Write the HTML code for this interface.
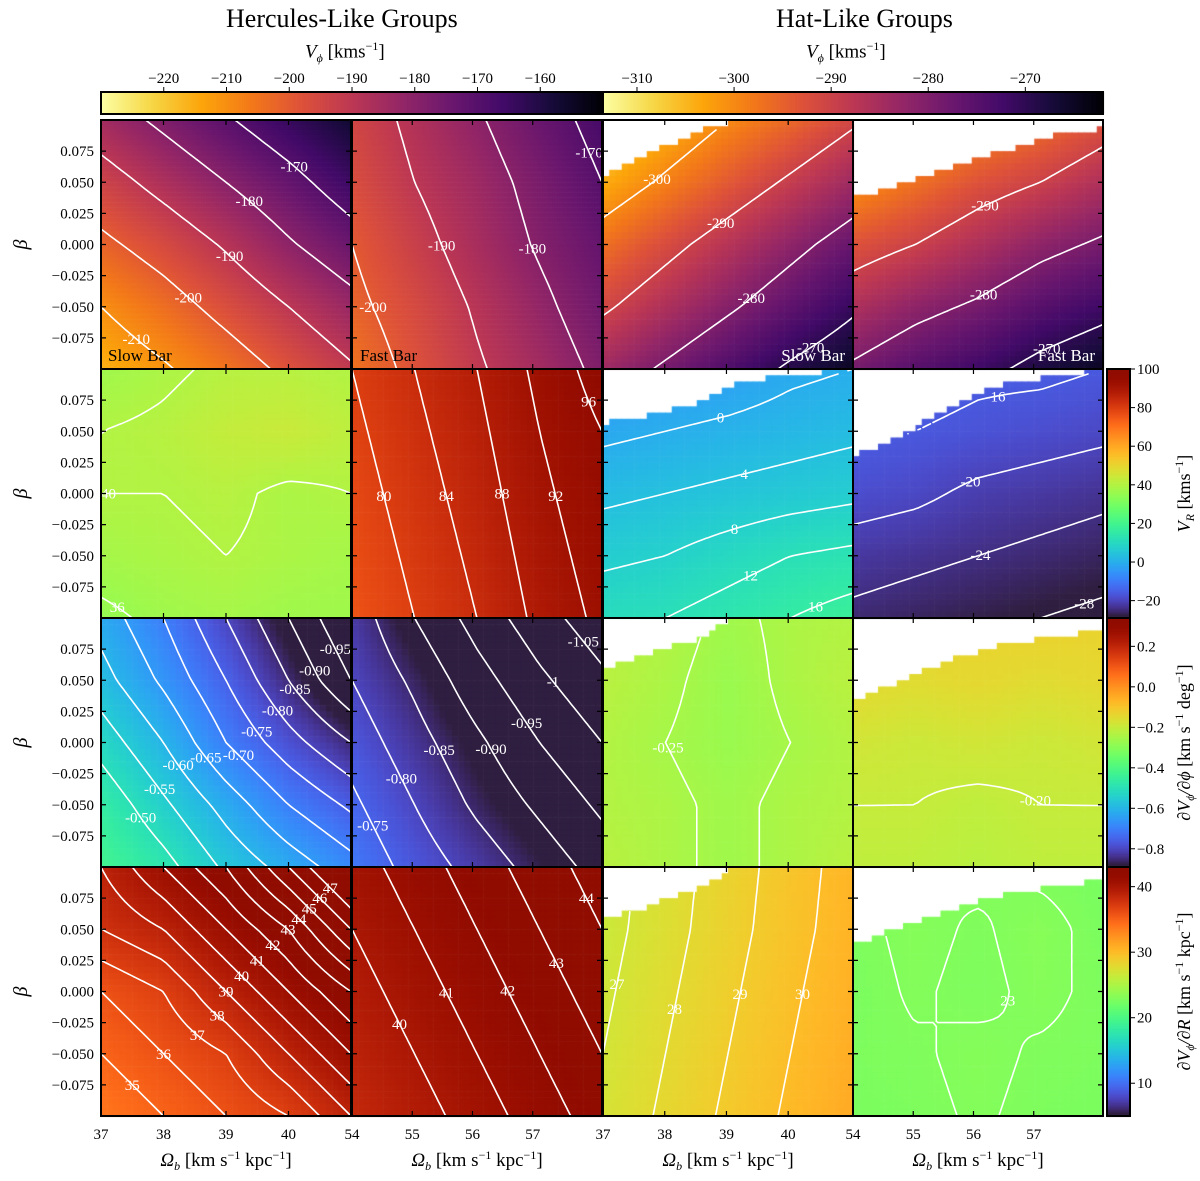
<!DOCTYPE html>
<html><head><meta charset="utf-8"><style>
body{margin:0;background:#fff;width:1200px;height:1181px;overflow:hidden;position:relative;font-family:"Liberation Serif","DejaVu Serif",serif;color:#000}
canvas{position:absolute;left:0;top:0}
svg{position:absolute;left:0;top:0}
.t{position:absolute;white-space:nowrap;font-size:15px;line-height:1}
</style></head><body>
<canvas id="cv" width="1200" height="1181"></canvas>
<svg id="ov" width="1200" height="1181"></svg>
<div class="t" style="left:226px;top:6px;font-size:26px">Hercules-Like Groups</div>
<div class="t" style="left:776px;top:6px;font-size:26px">Hat-Like Groups</div>
<div class="t" style="left:305px;top:40px;font-size:19px"><i>V</i><sub style="font-size:12px"><i>ϕ</i></sub> [kms<sup style="font-size:12px">−1</sup>]</div>
<div class="t" style="left:806px;top:40px;font-size:19px"><i>V</i><sub style="font-size:12px"><i>ϕ</i></sub> [kms<sup style="font-size:12px">−1</sup>]</div>
<script>
// ---------- data ----------
const betaTicks=[0.075,0.05,0.025,0,-0.025,-0.05,-0.075];
const betaTickLabels=["0.075","0.050","0.025","0.000","−0.025","−0.050","−0.075"];
const omegaTicksSlow=[37,38,39,40];
const omegaTicksFast=[54,55,56,57];
const cbTicksHerc=[-220,-210,-200,-190,-180,-170,-160];
const cbTicksHat=[-310,-300,-290,-280,-270];
const cbTicksVR=[100,80,60,40,20,0,-20];
const cbTicksDphi=[0.2,0,-0.2,-0.4,-0.6,-0.8];
const cbTickLabelsDphi=["0.2","0.0","−0.2","−0.4","−0.6","−0.8"];
const cbTicksDR=[40,30,20,10];

const vphiHercSlow=[[-185,-178,-171,-164,-157],[-194,-187,-180,-173,-165],[-202,-196,-189,-181,-174],[-210,-204,-197,-190,-183],[-216,-211,-205,-198,-191]];
const vphiHercFast=[[-195,-188,-181,-174,-167],[-197,-190,-184,-177,-170],[-200,-193,-186,-179,-173],[-202,-196,-189,-182,-175],[-205,-198,-191,-185,-178]];
const vphiHatSlow=[[-310,-305,-300,-296,-291],[-304,-299,-294,-289,-284],[-297,-292,-287,-282,-277],[-291,-286,-281,-276,-271],[-284,-279,-274,-269,-265]];
const vphiHatFast=[[-308,-304,-300,-297,-293],[-301,-297,-293,-290,-286],[-293,-290,-286,-282,-279],[-286,-282,-279,-275,-272],[-279,-275,-272,-268,-265]];
const vrHercSlow=[[37,39,41,41,40],[40,41,43,44,42],[40,40,41,39,40],[38,39,40,39,38],[35,37,38,37,37]];
const vrHercFast=[[80,84,88,93,98],[79,83,87,92,96],[78,82,86,91,95],[77,81,85,90,94],[76,80,84,89,93]];
const vrHatSlow=[[-5,-4,-3,-1,0],[-1,0,1,2,3],[3,4,5,6,7],[7,8,10,12,13],[11,12,14,16,18]];
const vrHatFast=[[-14,-14,-15,-15,-16],[-15,-16,-17,-18,-19],[-18,-19,-21,-22,-23],[-22,-23,-24,-25,-26],[-25,-26,-27,-28,-29]];
const dphiHercSlow=[[-0.62,-0.70,-0.80,-0.90,-1.0],[-0.58,-0.66,-0.75,-0.85,-0.95],[-0.52,-0.60,-0.70,-0.78,-0.85],[-0.46,-0.54,-0.62,-0.70,-0.76],[-0.42,-0.48,-0.56,-0.62,-0.68]];
const dphiHercFast=[[-0.82,-0.90,-0.97,-1.03,-1.08],[-0.80,-0.86,-0.93,-0.99,-1.04],[-0.77,-0.83,-0.89,-0.95,-1.00],[-0.74,-0.80,-0.86,-0.91,-0.96],[-0.71,-0.77,-0.82,-0.87,-0.92]];
const dphiHatSlow=[[-0.22,-0.23,-0.26,-0.24,-0.23],[-0.22,-0.24,-0.27,-0.24,-0.22],[-0.23,-0.25,-0.27,-0.25,-0.23],[-0.23,-0.24,-0.26,-0.24,-0.23],[-0.22,-0.24,-0.26,-0.24,-0.22]];
const dphiHatFast=[[-0.13,-0.12,-0.13,-0.12,-0.13],[-0.14,-0.15,-0.14,-0.15,-0.14],[-0.18,-0.19,-0.18,-0.19,-0.18],[-0.2,-0.2,-0.21,-0.2,-0.2],[-0.21,-0.21,-0.22,-0.21,-0.21]];
const drHercSlow=[[39,41,43,46,49],[38,39,41,43,46],[36,37,39,41,43],[35,36,37,39,41],[34,35,36,37,39]];
const drHercFast=[[40.5,41.5,42.5,43.5,44.5],[40,41,42,43,44],[39.5,40.5,41.5,42.5,43.5],[39,40,41,42,43],[38.5,39.5,40.5,41.5,42.5]];
const drHatSlow=[[26.5,27.5,28.5,29.5,30.5],[26.6,27.6,28.6,29.6,30.6],[26.8,27.8,28.8,29.8,30.8],[27,28,29,30,31],[27.2,28.2,29.2,30.2,31.2]];
const drHatFast=[[22.6,22.9,23.2,22.8,22.6],[22.8,23.2,22.9,23.3,22.7],[22.7,23.1,22.8,23.2,22.8],[22.8,22.9,23.2,22.9,22.8],[22.7,22.8,23.1,22.8,22.7]];

const maskHatSlowOmega=[37,37.7,38.5,39.2,41.1];
const maskHatSlowBeta1=[0.056,0.072,0.09,0.101,0.101];
const maskHatSlowBeta2=[0.057,0.062,0.072,0.09,0.101];
const maskHatSlowBeta3=[0.06,0.07,0.083,0.101,0.101];
const maskHatSlowBeta4=[0.059,0.068,0.082,0.101,0.101];
const maskHatFastOmega=[54,54.8,55.6,56.4,57.4,58.2];
const maskHatFastBeta1=[0.037,0.048,0.061,0.074,0.088,0.094];
const maskHatFastBeta2=[0.03,0.046,0.07,0.087,0.095,0.1];
const maskHatFastBeta3=[0.034,0.05,0.066,0.078,0.086,0.09];
const maskHatFastBeta4=[0.037,0.052,0.065,0.077,0.085,0.09];

const lvVphiHercSlow=[-210,-200,-190,-180,-170];
const lvVphiHercFast=[-200,-190,-180,-170];
const lvVphiHatSlow=[-300,-290,-280,-270];
const lvVphiHatFast=[-290,-280,-270];
const lvVrHercSlow=[36,40,44];
const lvVrHercFast=[80,84,88,92,96];
const lvVrHatSlow=[0,4,8,12,16];
const lvVrHatFast=[-16,-20,-24,-28];
const lvDphiHercSlow=[-0.95,-0.9,-0.85,-0.8,-0.75,-0.7,-0.65,-0.6,-0.55,-0.5];
const lvDphiHercFast=[-1.05,-1.0,-0.95,-0.9,-0.85,-0.8,-0.75];
const lvDphiHatSlow=[-0.25];
const lvDphiHatFast=[-0.2];
const lvDrHercSlow=[35,36,37,38,39,40,41,42,43,44,45,46,47];
const lvDrHercFast=[40,41,42,43,44];
const lvDrHatSlow=[27,28,29,30];
const lvDrHatFast=[23];

// ---------- layout ----------
const colX=[101,352,603,853], PW=250, rowY=[120,369,618,867], PH=249;
const omR=[[37,41],[54,58.15],[37,41.05],[54,58.15]];
const rowRange=[null,[-29,100],[-0.89,0.34],[5,43]];
const topRange=[[-230,-150],[-230,-150],[-313.5,-262],[-313.5,-262]];
const INF=["#000004","#160b39","#420a68","#6a176e","#932667","#bc3754","#dd513a","#f37819","#fca50a","#f6d746","#fcffa4"];
function hx(h){return [parseInt(h.substr(1,2),16),parseInt(h.substr(3,2),16),parseInt(h.substr(5,2),16)]}
const INFc=INF.map(hx);
function infernoR(t){t=Math.max(0,Math.min(1,1-t));const s=t*10,i=Math.min(9,Math.floor(s)),f=s-i;const a=INFc[i],b=INFc[i+1];
 return `rgb(${Math.round(a[0]+(b[0]-a[0])*f)},${Math.round(a[1]+(b[1]-a[1])*f)},${Math.round(a[2]+(b[2]-a[2])*f)})`}
function turbo(t){t=Math.max(0.012,Math.min(1,t));
 const r=0.13572138+t*(4.61539260+t*(-42.66032258+t*(132.13108234+t*(-152.94239396+t*59.28637943))));
 const g=0.09140261+t*(2.19418839+t*(4.84296658+t*(-14.18503333+t*(4.27729857+t*2.82956604))));
 const b=0.10667330+t*(12.64194608+t*(-60.58204836+t*(110.36276771+t*(-89.90310912+t*27.34824973))));
 const c=v=>Math.round(Math.max(0,Math.min(1,v))*255);return `rgb(${c(r)},${c(g)},${c(b)})`}

const panels=[
 {c:0,r:0,g:vphiHercSlow,lv:lvVphiHercSlow,name:"panel-vphi-hercules-slow"},
 {c:1,r:0,g:vphiHercFast,lv:lvVphiHercFast,name:"panel-vphi-hercules-fast"},
 {c:2,r:0,g:vphiHatSlow,lv:lvVphiHatSlow,mo:maskHatSlowOmega,mb:maskHatSlowBeta1,name:"panel-vphi-hat-slow"},
 {c:3,r:0,g:vphiHatFast,lv:lvVphiHatFast,mo:maskHatFastOmega,mb:maskHatFastBeta1,name:"panel-vphi-hat-fast"},
 {c:0,r:1,g:vrHercSlow,lv:lvVrHercSlow,name:"panel-vr-hercules-slow"},
 {c:1,r:1,g:vrHercFast,lv:lvVrHercFast,name:"panel-vr-hercules-fast"},
 {c:2,r:1,g:vrHatSlow,lv:lvVrHatSlow,mo:maskHatSlowOmega,mb:maskHatSlowBeta2,name:"panel-vr-hat-slow"},
 {c:3,r:1,g:vrHatFast,lv:lvVrHatFast,mo:maskHatFastOmega,mb:maskHatFastBeta2,name:"panel-vr-hat-fast"},
 {c:0,r:2,g:dphiHercSlow,lv:lvDphiHercSlow,name:"panel-dphi-hercules-slow"},
 {c:1,r:2,g:dphiHercFast,lv:lvDphiHercFast,name:"panel-dphi-hercules-fast"},
 {c:2,r:2,g:dphiHatSlow,lv:lvDphiHatSlow,mo:maskHatSlowOmega,mb:maskHatSlowBeta3,name:"panel-dphi-hat-slow"},
 {c:3,r:2,g:dphiHatFast,lv:lvDphiHatFast,mo:maskHatFastOmega,mb:maskHatFastBeta3,name:"panel-dphi-hat-fast"},
 {c:0,r:3,g:drHercSlow,lv:lvDrHercSlow,name:"panel-dr-hercules-slow"},
 {c:1,r:3,g:drHercFast,lv:lvDrHercFast,name:"panel-dr-hercules-fast"},
 {c:2,r:3,g:drHatSlow,lv:lvDrHatSlow,mo:maskHatSlowOmega,mb:maskHatSlowBeta4,name:"panel-dr-hat-slow"},
 {c:3,r:3,g:drHatFast,lv:lvDrHatFast,mo:maskHatFastOmega,mb:maskHatFastBeta4,name:"panel-dr-hat-fast"}
];
const cv=document.getElementById('cv'),ctx=cv.getContext('2d');
const NS="http://www.w3.org/2000/svg",ov=document.getElementById('ov');
function sv(tag,at,txt){const e=document.createElementNS(NS,tag);for(const k in at)e.setAttribute(k,at[k]);if(txt!==undefined)e.textContent=txt;ov.appendChild(e);return e}
function xScale(c,om){return colX[c]+(om-omR[c][0])/(omR[c][1]-omR[c][0])*PW}
function yScale(r,b){return rowY[r]+(0.1-b)/0.2*PH}
function bil(g,u,v){const gx=u*4,gy=v*4;const i=Math.min(3,Math.floor(gx)),j=Math.min(3,Math.floor(gy));const fx=gx-i,fy=gy-j;
 return g[j][i]*(1-fx)*(1-fy)+g[j][i+1]*fx*(1-fy)+g[j+1][i]*(1-fx)*fy+g[j+1][i+1]*fx*fy}
function interp(xs,ys,x){if(x<=xs[0])return ys[0];for(let k=1;k<xs.length;k++)if(x<=xs[k])return ys[k-1]+(ys[k]-ys[k-1])*(x-xs[k-1])/(xs[k]-xs[k-1]);return ys[ys.length-1]}
function masked(p,u,v){if(!p.mo)return false;const om=omR[p.c][0]+u*(omR[p.c][1]-omR[p.c][0]);const b=0.1-v*0.2;return b>interp(p.mo,p.mb,om)}
function color(p,val){if(p.r===0){const R=topRange[p.c];return infernoR((val-R[0])/(R[1]-R[0]))}const R=rowRange[p.r];return turbo((val-R[0])/(R[1]-R[0]))}
function fmt(l){return Number.isInteger(l)?String(l):l.toFixed(2)}

panels.forEach(p=>{
 const x0=colX[p.c],y0=rowY[p.r];
 const N=p.r===0?100:40;
 const nx=p.mo?40:N,ny=p.mo?40:N;
 for(let j=0;j<ny;j++)for(let i=0;i<nx;i++){
  const u=(i+0.5)/nx,v=(j+0.5)/ny;
  if(masked(p,u,v))continue;
  ctx.fillStyle=color(p,bil(p.g,u,v));
  ctx.fillRect(x0+i*PW/nx,y0+j*PH/ny,PW/nx+0.6,PH/ny+0.6);
 }
 const M=50;
 const grp=sv('g',{});
 p.lv.forEach(L=>{
  let d="",mids=[];
  for(let j=0;j<M;j++)for(let i=0;i<M;i++){
   const us=[i/M,(i+1)/M],vs=[j/M,(j+1)/M];
   if(masked(p,us[0],vs[0])||masked(p,us[1],vs[0])||masked(p,us[0],vs[1])||masked(p,us[1],vs[1]))continue;
   const a=bil(p.g,us[0],vs[0]),b=bil(p.g,us[1],vs[0]),c=bil(p.g,us[1],vs[1]),dd=bil(p.g,us[0],vs[1]);
   const pts=[];
   const e=(va,vb,ua,va2,ub,vb2)=>{if((va>=L)!==(vb>=L)){const f=vb===va?0.5:(L-va)/(vb-va);pts.push([ua+(ub-ua)*f,va2+(vb2-va2)*f])}};
   e(a,b,us[0],vs[0],us[1],vs[0]);e(b,c,us[1],vs[0],us[1],vs[1]);e(dd,c,us[0],vs[1],us[1],vs[1]);e(a,dd,us[0],vs[0],us[0],vs[1]);
   for(let k=0;k+1<pts.length;k+=2){const P=[pts[k],pts[k+1]].map(q=>[x0+q[0]*PW,y0+q[1]*PH]);d+=`M${P[0][0].toFixed(1)} ${P[0][1].toFixed(1)}L${P[1][0].toFixed(1)} ${P[1][1].toFixed(1)}`;mids.push([(P[0][0]+P[1][0])/2,(P[0][1]+P[1][1])/2])}
  }
  if(!d)return;
  const path=document.createElementNS(NS,'path');
  path.setAttribute('d',d);path.setAttribute('stroke','#fff');path.setAttribute('stroke-width','1.6');path.setAttribute('fill','none');path.setAttribute('stroke-linecap','round');
  
  
  grp.appendChild(path);
  const m=mids[Math.floor(mids.length/2)];
  const t=document.createElementNS(NS,'text');
  t.setAttribute('x',m[0].toFixed(1));t.setAttribute('y',(m[1]+5).toFixed(1));t.setAttribute('fill','#fff');
  t.setAttribute('font-size','15');t.setAttribute('text-anchor','middle');t.setAttribute('font-family','Liberation Serif, serif');
  t.textContent=fmt(L);
  
  
  grp.appendChild(t);
 });
});

panels.forEach(p=>{
 const x0=colX[p.c],y0=rowY[p.r];
 let d="";
 betaTicks.forEach(b=>{const y=yScale(p.r,b);d+=`M${x0} ${y}h5M${x0+PW} ${y}h-5`});
 (p.c%2===0?omegaTicksSlow:omegaTicksFast).forEach(o=>{const x=xScale(p.c,o);d+=`M${x} ${y0}v5M${x} ${y0+PH}v-5`});
 const tk=sv('path',{d:d,stroke:'#000','stroke-width':1.2,fill:'none'});
 
 
 const fr=sv('rect',{x:x0,y:y0,width:PW,height:PH,fill:'none',stroke:'#000','stroke-width':2});
 
 
});

for(let r=0;r<4;r++){
 betaTicks.forEach((b,k)=>{const t=sv('text',{x:94,y:yScale(r,b)+5,'font-size':15,'text-anchor':'end'},betaTickLabels[k]);
  
  });
 const yt=sv('text',{x:0,y:0,'font-size':20,'font-style':'italic',transform:`translate(27 ${rowY[r]+PH/2}) rotate(-90)`,'text-anchor':'middle'},'β');
 
 
}
for(let c=0;c<4;c++){
 (c%2===0?omegaTicksSlow:omegaTicksFast).forEach(o=>{const t=sv('text',{x:xScale(c,o),y:1139,'font-size':15,'text-anchor':'middle'},String(o));
  
  });
 const xt=sv('text',{x:colX[c]+PW/2,y:1166,'font-size':19,'text-anchor':'middle'});
 xt.innerHTML='<tspan font-style="italic">Ω</tspan><tspan font-size="12" dy="4" font-style="italic">b</tspan><tspan dy="-4"> [km s</tspan><tspan font-size="12" dy="-7">−1</tspan><tspan dy="7"> kpc</tspan><tspan font-size="12" dy="-7">−1</tspan><tspan dy="7">]</tspan>';
 
 
}
[[108,361,'start','Slow Bar'],[360,361,'start','Fast Bar'],[845,361,'end','Slow Bar'],[1095,361,'end','Fast Bar']].forEach(a=>{
 const t=sv('text',{x:a[0],y:a[1],'font-size':17,'text-anchor':a[2],fill:a[0]<600?'#000':'#fff'},a[3]);
 
 
});

function hBar(x0,w,R,ticks,name){
 for(let i=0;i<w;i++){ctx.fillStyle=infernoR(i/w);ctx.fillRect(x0+i,92,1.5,22)}
 const fr=sv('rect',{x:x0,y:92,width:w,height:22,fill:'none',stroke:'#000','stroke-width':2});
 
 
 ticks.forEach(v=>{const x=x0+(v-R[0])/(R[1]-R[0])*w;sv('path',{d:`M${x} 92v-5`,stroke:'#000','stroke-width':1});
  const t=sv('text',{x:x,y:83,'font-size':15,'text-anchor':'middle'},String(v).replace('-','−'));
  
  });
}
hBar(101,502,topRange[0],cbTicksHerc,'colorbar-vphi-hercules');
hBar(603,500,topRange[2],cbTicksHat,'colorbar-vphi-hat');
function vBar(r,ticks,labels,title,name){
 const y0=rowY[r],R=rowRange[r];
 for(let j=0;j<PH;j++){ctx.fillStyle=turbo(1-j/PH);ctx.fillRect(1107,y0+j,23,1.5)}
 const fr=sv('rect',{x:1107,y:y0,width:23,height:PH,fill:'none',stroke:'#000','stroke-width':2});
 
 
 ticks.forEach((v,k)=>{const y=y0+(R[1]-v)/(R[1]-R[0])*PH;sv('path',{d:`M1130 ${y}h5`,stroke:'#000','stroke-width':1});
  const t=sv('text',{x:1137,y:y+5,'font-size':15},labels?labels[k]:String(v).replace('-','−'));
  
  });
 const tt=sv('text',{x:0,y:0,'font-size':18,transform:`translate(1190 ${y0+PH/2}) rotate(-90)`,'text-anchor':'middle'});
 tt.innerHTML=title;
 
 
}
vBar(1,cbTicksVR,null,'<tspan font-style="italic">V</tspan><tspan font-size="12" dy="4" font-style="italic">R</tspan><tspan dy="-4"> [kms</tspan><tspan font-size="12" dy="-7">−1</tspan><tspan dy="7">]</tspan>','colorbar-vr');
vBar(2,cbTicksDphi,cbTickLabelsDphi,'<tspan font-style="italic">∂V</tspan><tspan font-size="12" dy="4" font-style="italic">ϕ</tspan><tspan dy="-4" font-style="italic">/∂ϕ</tspan><tspan> [km s</tspan><tspan font-size="12" dy="-7">−1</tspan><tspan dy="7"> deg</tspan><tspan font-size="12" dy="-7">−1</tspan><tspan dy="7">]</tspan>','colorbar-dvphi-dphi');
vBar(3,cbTicksDR,null,'<tspan font-style="italic">∂V</tspan><tspan font-size="12" dy="4" font-style="italic">ϕ</tspan><tspan dy="-4" font-style="italic">/∂R</tspan><tspan> [km s</tspan><tspan font-size="12" dy="-7">−1</tspan><tspan dy="7"> kpc</tspan><tspan font-size="12" dy="-7">−1</tspan><tspan dy="7">]</tspan>','colorbar-dvphi-dr');
</script>
</body></html>
